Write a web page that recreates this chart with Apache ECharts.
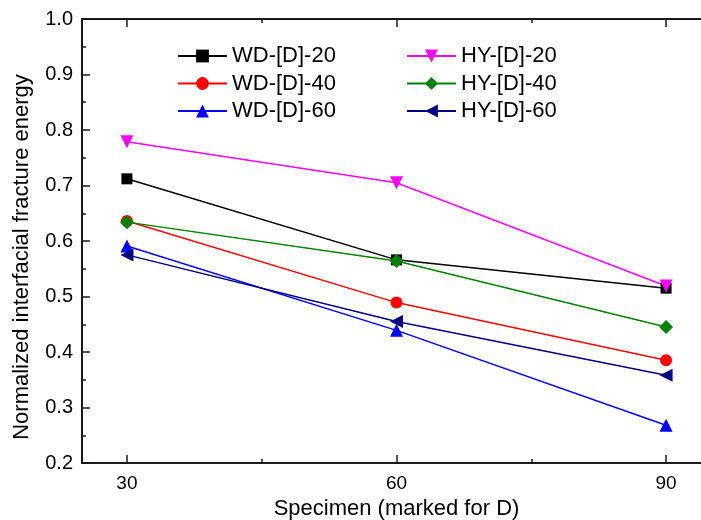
<!DOCTYPE html>
<html>
<head>
<meta charset="utf-8">
<script src="https://cdn.jsdelivr.net/npm/echarts@6/dist/echarts.min.js"></script>
<style>html,body{margin:0;padding:0;background:#fff}#c{width:701px;height:520px}</style>
</head>
<body>
<div id="c"></div>
<script>
var specimens = [30, 60, 90];
var wd20 = [0.712, 0.566, 0.515];
var wd40 = [0.636, 0.489, 0.385];
var wd60 = [0.591, 0.439, 0.268];
var hy20 = [0.779, 0.705, 0.519];
var hy40 = [0.634, 0.564, 0.445];
var hy60 = [0.575, 0.455, 0.358];
var majorX = [30, 60, 90];
var minorX = [45, 75];
var xTitle = 'Specimen (marked for D)';
var yTitle = 'Normalized interfacial fracture energy';

function pts(v){ return specimens.map(function(x,i){ return [x, v[i]]; }); }

var FONT = 'Liberation Sans, Arial, Helvetica, sans-serif';
var AX = '#1a1a1a';
var triDown = 'path://M0,0 L10,0 L5,9 Z';
var triLeft = 'path://M0,5 L9,0 L9,10 Z';

function mk(name, data, color, symbol, size){
  return {name:name, type:'line', data:pts(data), symbol:symbol, symbolSize:size,
    lineStyle:{color:color, width:1.5}, itemStyle:{color:color}, z:3, animation:false};
}

var baseX = {type:'value', min:25, max:95, gridIndex:0};
var chart = echarts.init(document.getElementById('c'), null, {renderer:'canvas'});
chart.setOption({
  animation:false,
  grid:{left:82, right:-10, top:19, bottom:57, containLabel:false, outerBoundsMode:'none'},
  xAxis:[
    Object.assign({}, baseX, {position:'bottom',
      axisLine:{show:true, lineStyle:{color:AX, width:2}},
      axisTick:{show:true, inside:true, length:8, customValues:majorX, lineStyle:{color:AX, width:1.5}},
      axisLabel:{show:true, customValues:majorX, margin:11, fontSize:19, color:'#000', fontFamily:FONT},
      splitLine:{show:false},
      name:xTitle, nameLocation:'middle', nameGap:34,
      nameTextStyle:{fontSize:22, color:'#000', fontFamily:FONT}}),
    Object.assign({}, baseX, {position:'bottom',
      axisLine:{show:false},
      axisTick:{show:true, inside:true, length:4, customValues:minorX, lineStyle:{color:AX, width:1.5}},
      axisLabel:{show:false}, splitLine:{show:false}}),
    Object.assign({}, baseX, {position:'top',
      axisLine:{show:true, lineStyle:{color:AX, width:2}},
      axisTick:{show:true, inside:true, length:8, customValues:majorX, lineStyle:{color:AX, width:1.5}},
      axisLabel:{show:false}, splitLine:{show:false}}),
    Object.assign({}, baseX, {position:'top',
      axisLine:{show:false},
      axisTick:{show:true, inside:true, length:4, customValues:minorX, lineStyle:{color:AX, width:1.5}},
      axisLabel:{show:false}, splitLine:{show:false}})
  ],
  yAxis:{type:'value', min:0.2, max:1.0, interval:0.1,
    axisLine:{show:true, lineStyle:{color:AX, width:2}},
    axisTick:{show:true, inside:true, length:8, lineStyle:{color:AX, width:1.5}},
    minorTick:{show:true, splitNumber:2, length:4, lineStyle:{color:AX, width:1.5}},
    axisLabel:{margin:9, fontSize:20, color:'#000', fontFamily:FONT,
      formatter:function(v){ return v.toFixed(1); }},
    splitLine:{show:false}},
  legend:[
    {data:['WD-[D]-20','WD-[D]-40','WD-[D]-60'], orient:'vertical', left:172, top:40,
     itemWidth:49, itemHeight:16, itemGap:5.5,
     textStyle:{fontSize:22, lineHeight:22, color:'#000', fontFamily:FONT}},
    {data:['HY-[D]-20','HY-[D]-40','HY-[D]-60'], orient:'vertical', left:401, top:40,
     itemWidth:49, itemHeight:16, itemGap:5.5,
     textStyle:{fontSize:22, lineHeight:22, color:'#000', fontFamily:FONT}}
  ],
  graphic:[{type:'text', x:22, y:257, rotation:Math.PI/2,
    style:{text:yTitle, fontSize:22, fill:'#000', fontFamily:FONT, textAlign:'center', textVerticalAlign:'middle'}}],
  series:[
    mk('WD-[D]-20', wd20, '#000000', 'rect', 11),
    mk('WD-[D]-40', wd40, '#ff0000', 'circle', 12),
    mk('WD-[D]-60', wd60, '#0000ff', 'triangle', 13),
    mk('HY-[D]-20', hy20, '#ff00ff', triDown, 13),
    mk('HY-[D]-40', hy40, '#008000', 'diamond', 14),
    mk('HY-[D]-60', hy60, '#000080', triLeft, 13)
  ]
});
</script>
</body>
</html>
